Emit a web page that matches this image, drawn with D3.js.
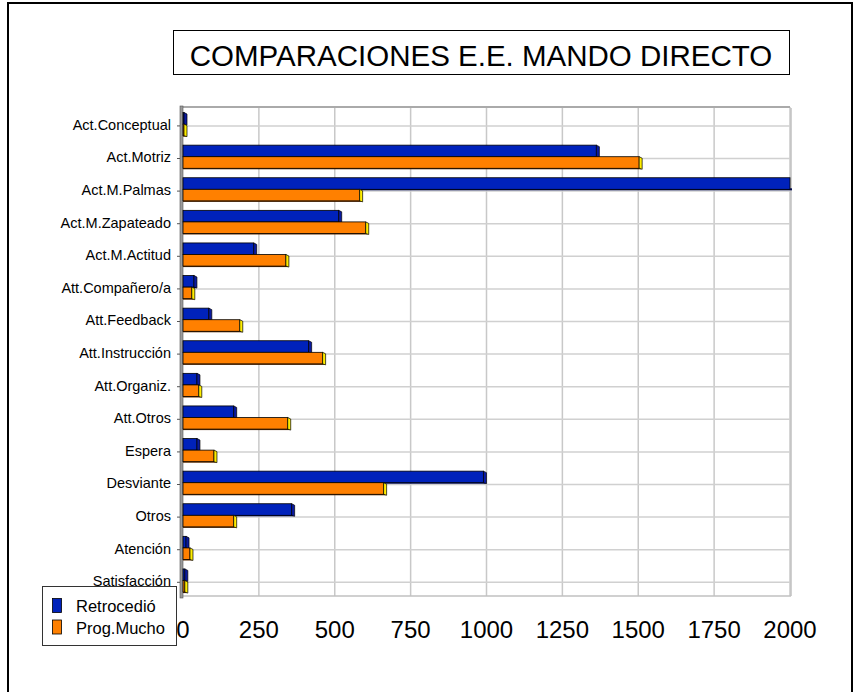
<!DOCTYPE html>
<html><head><meta charset="utf-8">
<script src="https://cdn.jsdelivr.net/npm/d3@7"></script>
<style>body{margin:0;background:#fff}svg{display:block;font-family:Arial,"Liberation Sans",sans-serif}</style>
</head><body><svg id="c" width="854" height="692"></svg>
<script>
const categories = ["Act.Conceptual","Act.Motriz","Act.M.Palmas","Act.M.Zapateado","Act.M.Actitud","Att.Compañero/a","Att.Feedback","Att.Instrucción","Att.Organiz.","Att.Otros","Espera","Desviante","Otros","Atención","Satisfacción"];
const retrocedio = [3, 1362, 2000, 513, 233, 36, 85, 414, 46, 167, 46, 990, 358, 10, 6];
const progMucho = [3, 1503, 582, 602, 339, 29, 187, 460, 52, 345, 102, 661, 167, 23, 6];
const ticks = [0,250,500,750,1000,1250,1500,1750,2000];
const seriesNames = ["Retrocedió","Prog.Mucho"];
const title = "COMPARACIONES E.E. MANDO DIRECTO";

const svg = d3.select("#c");
svg.append("rect").attr("width",854).attr("height",692).attr("fill","#fff");
// outer frame
svg.append("path").attr("d","M8,700 L8,3 L852,3 L852,700").attr("fill","none").attr("stroke","#000").attr("stroke-width",2);

const x = d3.scaleLinear().domain([0,2000]).range([183,790]);
const y = d3.scaleBand().domain(categories).range([107,596]).padding(0);
const step = y.step();

const g = svg.append("g");
g.selectAll("line.v").data(ticks.slice(1)).join("line")
  .attr("x1",d=>x(d)).attr("x2",d=>x(d)).attr("y1",107).attr("y2",596)
  .attr("stroke","#c8c8c8").attr("stroke-width",1.5);
g.selectAll("line.h").data(categories).join("line")
  .attr("x1",x(0)).attr("x2",x(2000)).attr("y1",d=>y(d)+0.58*step).attr("y2",d=>y(d)+0.58*step)
  .attr("stroke","#d0d0d0").attr("stroke-width",1.5);
g.append("line").attr("x1",x(0)).attr("x2",x(2000)).attr("y1",107).attr("y2",107).attr("stroke","#aaa").attr("stroke-width",2);
g.append("line").attr("x1",x(0)).attr("x2",x(2000)+1).attr("y1",596).attr("y2",596).attr("stroke","#c0c0c0").attr("stroke-width",1.5);
g.append("line").attr("x1",x(2000)+1).attr("x2",x(2000)+1).attr("y1",108).attr("y2",596).attr("stroke","#c0c0c0").attr("stroke-width",1.5);
g.append("rect").attr("x",x(0)-3).attr("y",106).attr("width",3).attr("height",492).attr("fill","#9a9a9a").attr("stroke","#555").attr("stroke-width",0.6);
g.selectAll("line.t").data(categories).join("line")
  .attr("x1",x(0)-6).attr("x2",x(0)-3).attr("y1",d=>y(d)+0.58*step).attr("y2",d=>y(d)+0.58*step)
  .attr("stroke","#555").attr("stroke-width",1);

const bh = 0.355*step;
const series = [
  {vals:retrocedio, off:0.17*step, front:"#0022bb", side:"#0a1aa0", bottom:"#000a55"},
  {vals:progMucho, off:0.17*step+bh, front:"#ff8000", side:"#ffee00", bottom:"#5a2a00"}
];
series.forEach(s=>{
  const bg = svg.append("g");
  categories.forEach((c,i)=>{
    const v = s.vals[i];
    const x0 = x(0), x1 = x(v);
    const yt = y(c)+s.off;
    const w = Math.max(x1-x0,1);
    bg.append("rect").attr("x",x0).attr("y",yt+bh-1).attr("width",w+2).attr("height",2).attr("fill",s.bottom);
    bg.append("rect").attr("x",x0).attr("y",yt).attr("width",w).attr("height",bh)
      .attr("fill",s.front).attr("stroke","#000").attr("stroke-width",0.8);
    if (v < 2000) {
      bg.append("path").attr("d",`M${x0+w},${yt} L${x0+w+3},${yt+1.5} L${x0+w+3},${yt+bh+1} L${x0+w},${yt+bh} Z`)
        .attr("fill",s.side).attr("stroke","#000").attr("stroke-width",0.7);
    }
  });
});

svg.append("g").selectAll("text").data(categories).join("text")
  .attr("x",171).attr("y",d=>y(d)+step/2+1.5).attr("dy","0.35em")
  .attr("text-anchor","end").attr("font-size",14.5).attr("fill","#000").text(d=>d);

svg.append("g").selectAll("text").data(ticks).join("text")
  .attr("x",d=>x(d)).attr("y",638).attr("text-anchor","middle")
  .attr("font-size",24).attr("fill","#000").text(d=>d);

svg.append("rect").attr("x",173.5).attr("y",30.5).attr("width",616).attr("height",44).attr("fill","#fff").attr("stroke","#000").attr("stroke-width",1);
svg.append("text").attr("x",481).attr("y",66).attr("text-anchor","middle").attr("font-size",29.5).attr("fill","#000").text(title);

const lg = svg.append("g");
lg.append("rect").attr("x",42.5).attr("y",586.5).attr("width",134).attr("height",59).attr("fill","#fff").attr("stroke","#333").attr("stroke-width",1);
const lcol = ["#0022bb","#ff8000"];
seriesNames.forEach((n,i)=>{
  lg.append("rect").attr("x",52.5).attr("y",598.5+i*21.5).attr("width",9).attr("height",14).attr("fill",lcol[i]).attr("stroke","#000").attr("stroke-width",0.8);
  lg.append("text").attr("x",76).attr("y",612+i*21.5).attr("font-size",16.5).attr("fill","#000").text(n);
});
</script></body></html>
